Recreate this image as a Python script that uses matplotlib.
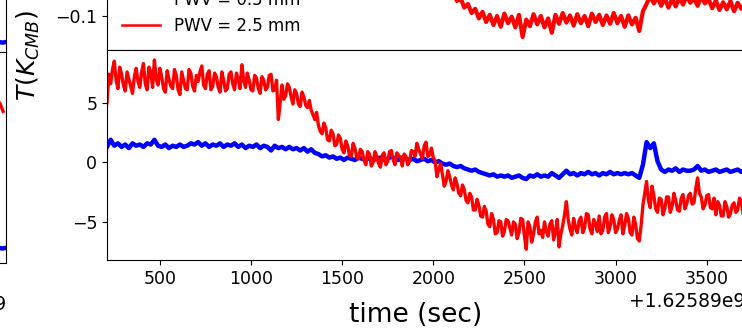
import matplotlib
matplotlib.use("Agg")
import matplotlib.pyplot as plt
import numpy as np

# time offsets (sec) relative to T0, sampled every 20 s
T0 = 1625890000
t_sec = np.arange(210, 3711, 20)
t_mid = np.arange(220, 3701, 20)  # in-between samples of the noisy red trace

# lower panel: temperature in K_CMB
red_low = [
    5.0, 6.6, 8.5, 6.2, 7.4, 6.0, 7.0, 5.8, 7.9, 6.3,
    8.3, 6.1, 7.6, 8.6, 6.5, 7.2, 5.9, 7.0, 6.2, 7.3,
    5.7, 6.9, 6.1, 7.5, 6.0, 6.8, 8.1, 6.2, 7.7, 6.4,
    7.2, 5.9, 6.9, 6.2, 7.6, 6.1, 7.0, 8.2, 6.3, 6.9,
    6.0, 7.1, 5.8, 6.9, 6.3, 7.4, 6.1, 3.6, 6.5, 5.6,
    6.3, 4.9, 5.8, 4.7, 5.5, 4.6, 4.4, 3.6, 3.1, 2.4,
    2.9, 1.8, 2.4, 1.5, 2.0, 0.8, 1.4, 0.5, 1.2, 0.3,
    0.9, -0.2, 0.7, 0.0, 0.5, -0.4, 0.8, 0.1, 1.0, -0.2,
    0.6, -0.3, 0.5, 0.1, 0.9, 1.6, 0.7, 1.4, 0.5, 1.2,
    0.1, -0.6, -1.0, -1.6, -1.2, -2.3, -1.8, -2.8, -2.3, -3.4,
    -2.9, -4.0, -3.6, -4.6, -4.1, -5.4, -4.8, -5.9, -5.0, -5.8,
    -4.9, -6.1, -5.2, -5.9, -4.8, -7.3, -5.4, -6.0, -4.6, -5.7,
    -5.0, -6.2, -4.9, -5.8, -7.1, -5.3, -3.3, -5.6, -4.7, -5.9,
    -4.6, -5.5, -4.4, -6.0, -5.1, -4.5, -5.7, -4.3, -5.4, -4.8,
    -5.6, -4.4, -5.3, -4.7, -6.1, -5.2, -6.6, -3.6, -1.6, -3.8,
    -2.8, -4.2, -3.1, -3.9, -2.9, -3.7, -3.2, -4.1, -2.7, -3.5,
    -2.6, -3.4, -1.3, -2.9, -3.6, -2.7, -3.9, -4.4, -3.6, -4.5,
    -3.7, -4.3, -3.4, -4.0, -3.3, -3.7,
]
red_low_mid = [
    7.4, 7.8, 6.9, 8.0, 6.5, 7.6, 6.4, 7.2, 6.8, 7.6,
    6.6, 8.0, 6.3, 7.0, 7.9, 6.2, 7.7, 6.4, 7.8, 6.1,
    7.6, 6.2, 7.8, 6.4, 7.3, 7.6, 6.5, 7.4, 6.1, 7.5,
    6.3, 7.6, 6.0, 7.4, 6.6, 7.5, 6.2, 6.9, 7.5, 6.1,
    7.3, 6.2, 7.2, 6.1, 7.3, 6.0, 6.9, 5.0, 5.3, 6.6,
    5.5, 6.1, 4.9, 5.9, 4.8, 5.2, 4.0, 4.2, 2.6, 3.3,
    1.9, 2.7, 1.4, 2.3, 1.1, 1.8, 0.6, 1.6, 0.4, 1.1,
    0.2, 0.9, -0.3, 0.9, -0.1, 0.6, -0.2, 0.9, 0.2, 0.8,
    0.4, 0.7, -0.2, 1.0, 0.5, 1.1, 0.3, 1.7, 0.6, 0.4,
    -1.2, -0.1, -2.0, -0.7, -1.9, -1.3, -2.6, -1.9, -3.2, -2.6,
    -4.0, -3.1, -4.5, -3.7, -5.2, -4.3, -6.0, -4.9, -6.2, -4.8,
    -5.5, -5.0, -6.4, -4.7, -6.2, -5.0, -6.7, -5.0, -6.0, -6.3,
    -5.8, -5.2, -6.5, -4.8, -6.0, -4.4, -4.8, -6.1, -5.5, -4.9,
    -5.9, -4.3, -5.6, -4.8, -5.8, -6.0, -4.6, -5.9, -4.4, -5.9,
    -4.9, -6.0, -4.3, -5.9, -4.6, -6.4, -5.3, -2.6, -3.2, -2.0,
    -3.9, -3.0, -4.4, -2.9, -4.2, -2.6, -4.0, -3.0, -3.9, -2.8,
    -3.5, -2.2, -2.6, -3.9, -2.8, -3.8, -3.0, -3.3, -4.5, -3.3,
    -4.6, -3.6, -4.2, -3.0, -4.4,
]
blue_low = [
    1.3, 1.9, 1.4, 1.6, 1.3, 1.5, 1.2, 1.6, 1.4, 1.5,
    1.3, 1.6, 1.5, 1.9, 1.4, 1.3, 1.5, 1.2, 1.4, 1.3,
    1.5, 1.3, 1.4, 1.6, 1.5, 1.7, 1.4, 1.6, 1.3, 1.5,
    1.4, 1.6, 1.3, 1.5, 1.4, 1.6, 1.3, 1.5, 1.2, 1.4,
    1.3, 1.5, 1.2, 1.4, 1.3, 1.0, 1.4, 1.2, 1.3, 1.1,
    1.3, 1.1, 1.2, 1.0, 1.2, 0.9, 1.1, 0.8, 0.7, 0.5,
    0.6, 0.4, 0.5, 0.3, 0.4, 0.2, 0.4, 0.3, 0.2, 0.4,
    0.3, 0.2, 0.4, 0.2, 0.3, 0.4, 0.2, 0.3, 0.5, 0.3,
    0.2, 0.4, 0.3, 0.2, 0.3, 0.1, 0.2, 0.3, 0.1, 0.2,
    0.0, 0.1, -0.1, -0.2, -0.1, -0.3, -0.4, -0.3, -0.5, -0.6,
    -0.7, -0.6, -0.8, -0.9, -1.0, -1.1, -1.0, -1.2, -1.1, -1.2,
    -1.1, -1.3, -1.2, -1.1, -1.3, -1.4, -1.1, -1.2, -1.0, -1.2,
    -1.1, -1.2, -0.9, -1.1, -1.3, -1.0, -0.7, -1.0, -0.9, -1.1,
    -0.9, -1.0, -0.8, -1.0, -0.9, -1.1, -0.9, -1.0, -0.8, -1.0,
    -0.9, -1.0, -0.9, -1.0, -0.9, -1.1, -1.3, -0.2, 1.7, 1.2,
    1.6, 0.1, -0.6, -0.8, -0.6, -0.7, -0.5, -0.8, -0.6, -0.7,
    -0.7, -0.6, -0.3, -0.7, -0.6, -0.8, -0.7, -0.6, -0.8, -0.7,
    -0.6, -0.8, -0.7, -0.6, -0.8, -0.7,
]

# upper panel (only the bottom of it is in frame)
t_up = np.r_[np.arange(210, 2100, 100), np.arange(2110, 3711, 20)]
red_up = [
    -0.01, -0.005, 0.0, -0.008, 0.002, -0.006, -0.01, -0.004, -0.012, -0.015,
    -0.02, -0.03, -0.035, -0.04, -0.045, -0.04, -0.045, -0.04, -0.05,
    -0.062, -0.075, -0.07, -0.086, -0.08, -0.095, -0.088, -0.104, -0.093, -0.11,
    -0.098, -0.115, -0.1, -0.118, -0.096, -0.112, -0.101, -0.119, -0.098, -0.135,
    -0.106, -0.117, -0.097, -0.114, -0.1, -0.119, -0.104, -0.128, -0.098, -0.113,
    -0.095, -0.111, -0.099, -0.116, -0.097, -0.112, -0.1, -0.117, -0.096, -0.11,
    -0.098, -0.115, -0.099, -0.113, -0.095, -0.112, -0.1, -0.118, -0.099, -0.114,
    -0.103, -0.125, -0.092, -0.08, -0.066, -0.079, -0.068, -0.083, -0.07, -0.086,
    -0.072, -0.084, -0.069, -0.081, -0.066, -0.078, -0.07, -0.083, -0.067, -0.079,
    -0.072, -0.087, -0.074, -0.09, -0.077, -0.089, -0.075, -0.092, -0.078, -0.088,
    -0.08,
]
t_up_blue = [210, 1000, 2000, 3000, 3710]
blue_up = [0.02, 0.025, 0.015, 0.01, 0.012]

# neighbouring panel on the left (only its right edge is in frame)
t_left_red = [3600, 3650, 3677, 3694]
red_left = [4.8, 4.5, 4.1, 3.5]
t_left_blue = [3600, 3650, 3690, 3710]
blue_left = [-6.9, -6.8, -6.9, -6.85]
blue_left_up = [-0.14, -0.139, -0.141, -0.14]

labels = ["PWV = 0.5 mm", "PWV = 2.5 mm"]
xticks = [500, 1000, 1500, 2000, 2500, 3000, 3500]

W, H = 742, 330
fig = plt.figure(figsize=(W / 100, H / 100), dpi=100)


def box(left, right, top, bottom):
    return [left / W, 1 - bottom / H, (right - left) / W, (bottom - top) / H]


ax_up = fig.add_axes(box(107, 745, -160, 50))
ax_lo = fig.add_axes(box(107, 745, 50, 260))
axl_up = fig.add_axes(box(-632, 6, -158, 52))
axl_lo = fig.add_axes(box(-632, 6, 52, 263))

# merge the two red sample sets into one time-ordered trace
t_red = np.r_[t_sec, t_mid]
v_red = np.r_[red_low, red_low_mid]
order = np.argsort(t_red)

lw_red, lw_blue = 2.4, 3.2
ax_up.plot(T0 + np.array(t_up_blue), blue_up, color="blue", lw=lw_blue, label=labels[0])
ax_up.plot(T0 + t_up, red_up, color="red", lw=3.0, label=labels[1])
ax_lo.plot(T0 + t_sec, blue_low, color="blue", lw=lw_blue)
ax_lo.plot(T0 + t_red[order], v_red[order], color="red", lw=lw_red)

axl_up.plot(T0 + np.array(t_left_blue), blue_left_up, color="blue", lw=lw_blue)
axl_lo.plot(T0 + np.array(t_left_blue), blue_left, color="blue", lw=lw_blue)
axl_lo.plot(T0 + np.array(t_left_red), red_left, color="red", lw=lw_red)

for ax in (ax_up, ax_lo, axl_up, axl_lo):
    ax.set_xlim(T0 + 210, T0 + 3710)
    ax.tick_params(labelsize=12.5)

for ax in (ax_up, axl_up):
    ax.set_ylim(-0.15667, 0.19333)
    ax.set_yticks([-0.1, 0.0, 0.1])
    ax.tick_params(axis="x", bottom=False, labelbottom=False)

ax_lo.set_ylim(-8.2, 9.44)
ax_lo.set_yticks([-5, 0, 5])
axl_lo.set_ylim(-8, 8)
for ax in (ax_lo, axl_lo):
    ax.set_xticks([T0 + v for v in xticks])
    ax.xaxis.get_offset_text().set_fontsize(13.5)

leg = ax_up.legend(loc="lower left", fontsize=12, frameon=False, handlelength=2.3)
for line in leg.get_lines():
    line.set_linewidth(1.8)

fig.text(416 / W, 1 - 315 / H, "time (sec)", fontsize=19, ha="center", va="center")
fig.text(28 / W, 1 - 55 / H, r"$T(K_{CMB})$", fontsize=18, rotation=90,
         ha="center", va="center")

fig.savefig("out.png", dpi=100)
